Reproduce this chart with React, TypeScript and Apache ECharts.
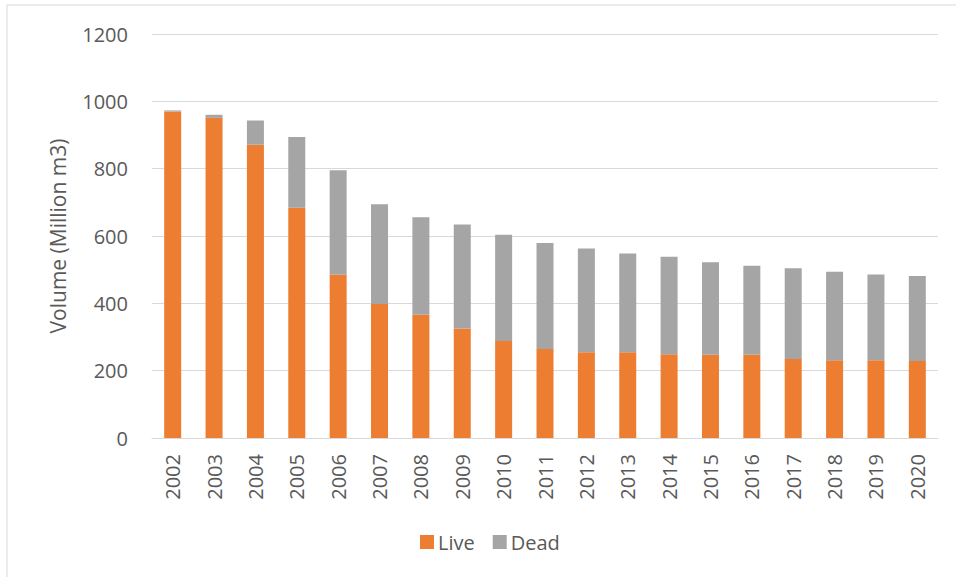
import React, { useEffect, useRef } from "react";
import * as echarts from "echarts";

const years = ["2002","2003","2004","2005","2006","2007","2008","2009","2010","2011","2012","2013","2014","2015","2016","2017","2018","2019","2020"];
const live = [970, 951, 871, 684, 485, 398, 366, 325, 288, 264, 255, 255, 249, 247, 247, 235, 231, 231, 229];
const dead = [3, 9, 72, 210, 310, 296, 290, 309, 316, 315, 308, 293, 289, 275, 265, 269, 263, 255, 252];
const yTicks = { min: 0, max: 1200, interval: 200 };

const FONT = "'Open Sans', 'Liberation Sans', sans-serif";
const TXT = "#595959";

export default function App() {
  const ref = useRef<HTMLDivElement>(null);
  useEffect(() => {
    if (!ref.current) return;
    const chart = echarts.init(ref.current, null, { renderer: "svg" });
    chart.setOption({
      animation: false,
      backgroundColor: "#ffffff",
      textStyle: { fontFamily: FONT },
      grid: { left: 152, right: 18, top: 34, bottom: 139, containLabel: false },
      legend: {
        left: 415,
        top: 527,
        itemWidth: 14,
        itemHeight: 14,
        itemGap: 18,
        icon: "rect",
        textStyle: { color: TXT, fontSize: 20, fontFamily: FONT, padding: [0, 0, 0, -1] },
        data: ["Live", "Dead"],
      },
      xAxis: {
        type: "category",
        data: years,
        axisLine: { show: true, lineStyle: { color: "#d9d9d9", width: 1 } },
        axisTick: { show: false },
        axisLabel: { rotate: 90, color: TXT, fontSize: 20, fontFamily: FONT, margin: 16 },
      },
      yAxis: {
        type: "value",
        min: yTicks.min,
        max: yTicks.max,
        interval: yTicks.interval,
        name: "Volume (Million m3)",
        nameLocation: "middle",
        nameGap: 84,
        nameTextStyle: { color: TXT, fontSize: 21, fontFamily: FONT },
        axisLine: { show: false },
        axisTick: { show: false },
        splitLine: { lineStyle: { color: "#d9d9d9", width: 1 } },
        axisLabel: {
          color: TXT,
          fontSize: 20,
          fontFamily: FONT,
          margin: 24,
          formatter: (v: number) => String(v),
        },
      },
      graphic: [
        {
          type: "rect",
          shape: { x: 7, y: 5, width: 1200, height: 1000 },
          style: { fill: "none", stroke: "#d9d9d9", lineWidth: 1 },
          silent: true,
          z: -1,
        },
      ],
      series: [
        {
          name: "Live",
          type: "bar",
          stack: "total",
          barWidth: 17,
          itemStyle: { color: "#ED7D31" },
          data: live,
        },
        {
          name: "Dead",
          type: "bar",
          stack: "total",
          barWidth: 17,
          itemStyle: { color: "#A5A5A5" },
          data: dead,
        },
      ],
    });
    return () => chart.dispose();
  }, []);
  return (
    <div
      ref={ref}
      style={{ position: "fixed", left: 0, top: 0, width: 956, height: 577 }}
    />
  );
}
